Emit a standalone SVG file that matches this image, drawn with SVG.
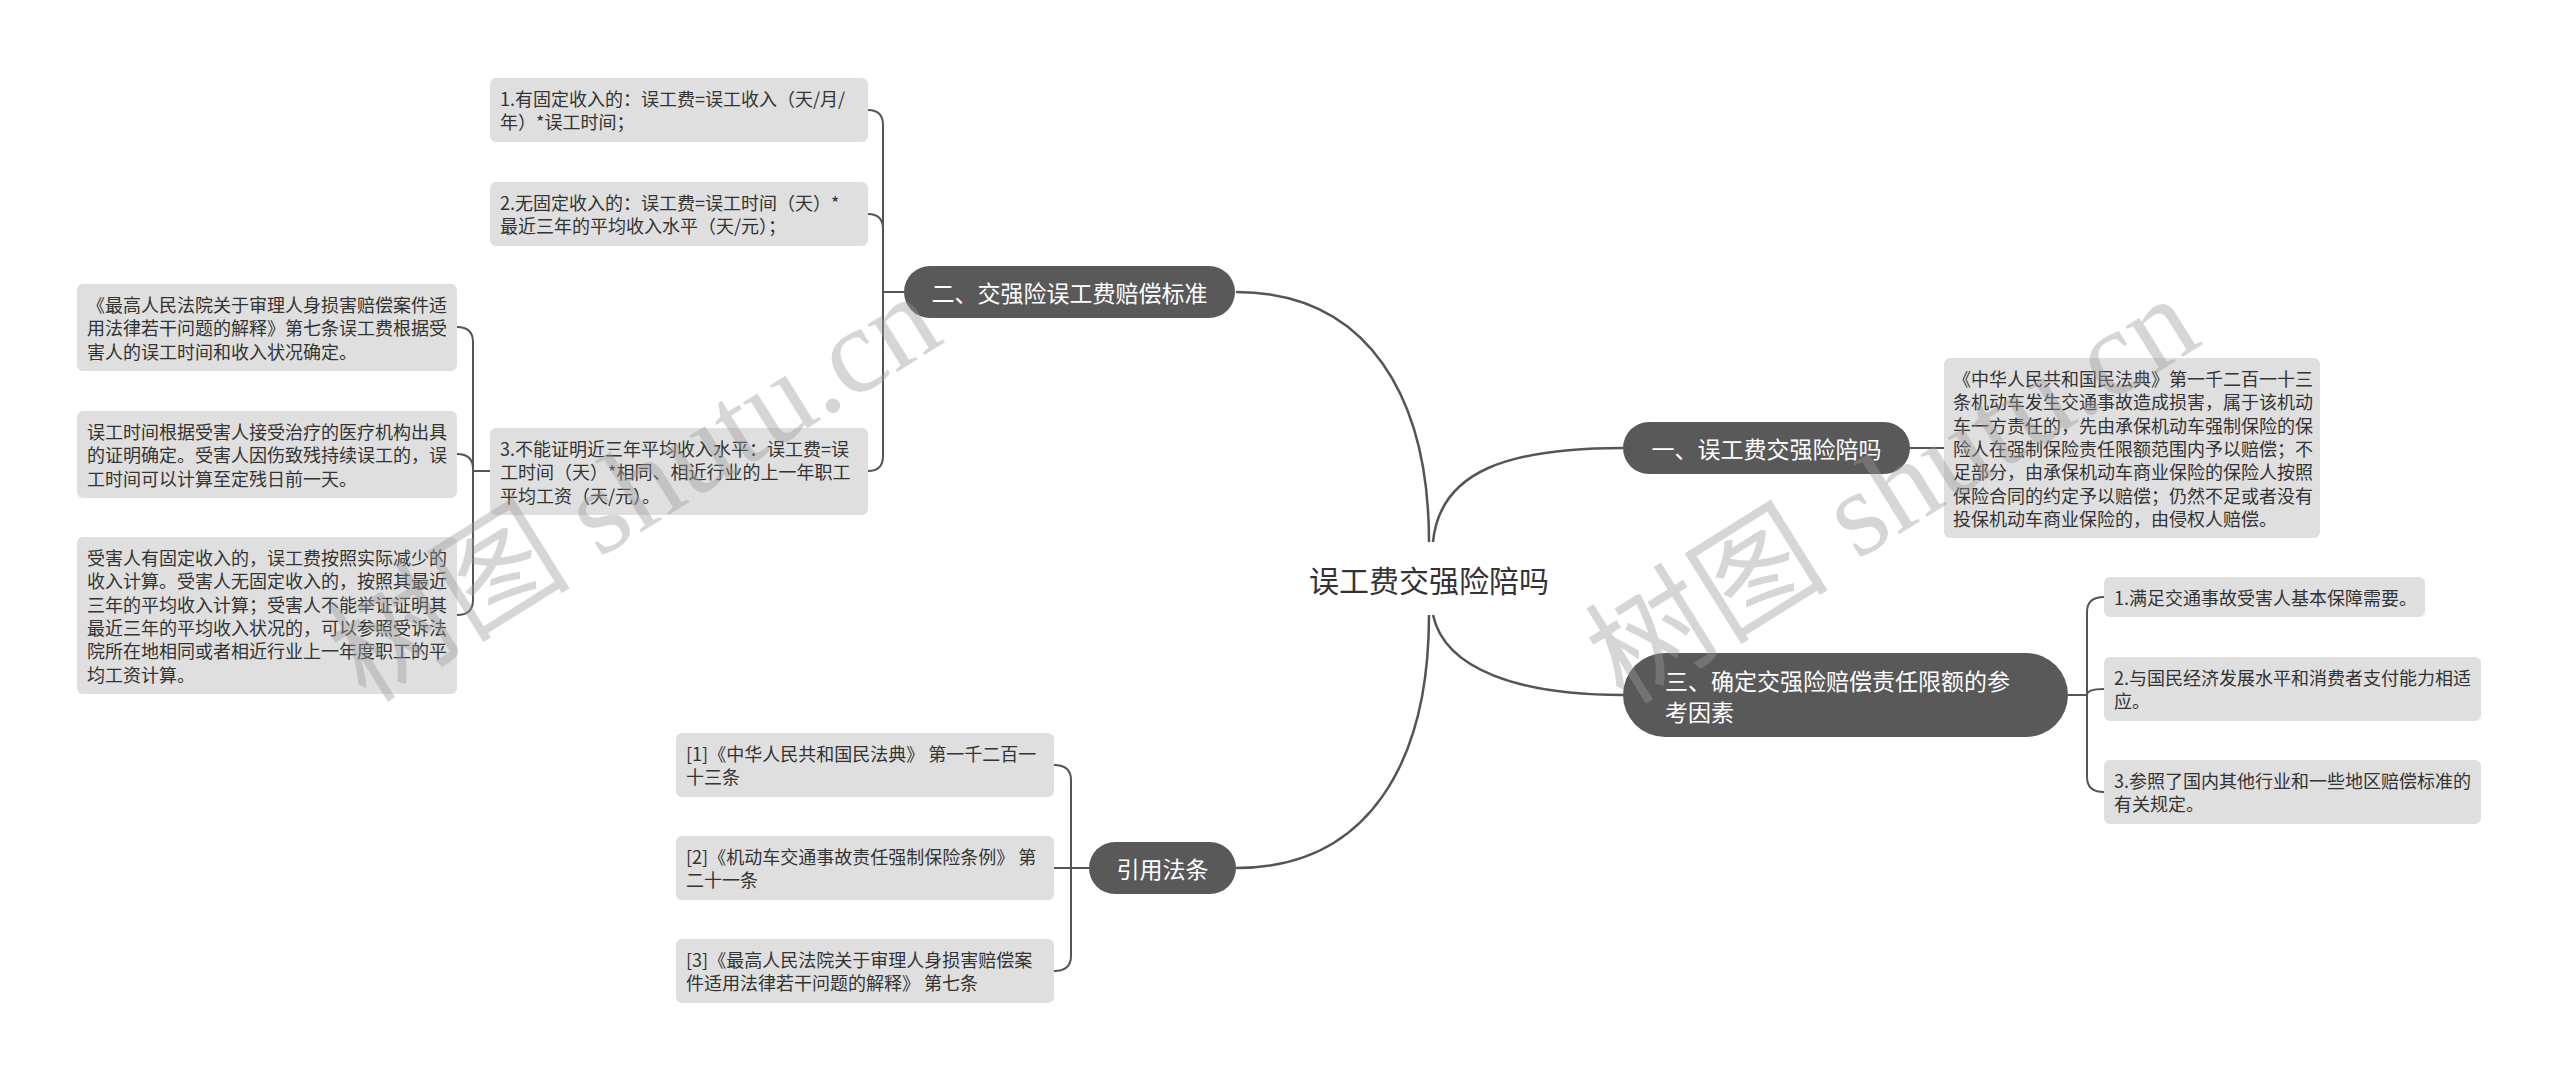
<svg xmlns="http://www.w3.org/2000/svg" width="2560" height="1081" viewBox="0 0 2560 1081">
<style>
.leaf rect{fill:#dfdfdf;}
.leaf text{font-family:"Noto Sans CJK SC","Noto Sans",sans-serif;font-size:18px;fill:#333;dominant-baseline:central;}
.main rect{fill:#595959;}
.main text{font-family:"Noto Sans CJK SC","Noto Sans",sans-serif;font-size:23px;fill:#fff;dominant-baseline:central;}
.conn path{fill:none;stroke:#555;stroke-width:2;}
.conn path.big{stroke-width:2.5;}
.wm{font-family:"Liberation Serif","Noto Sans CJK SC",serif;font-size:122px;fill:#9a9a9a;opacity:0.4;}
</style>
<rect width="2560" height="1081" fill="#fff"/>

<g id="connectors" class="conn">
<path class="big" d="M1236,292 C1370,292 1429,400 1429,542"/>
<path class="big" d="M1433,542 C1440,470 1510,448 1623,448"/>
<path class="big" d="M1429,615 C1429,760 1370,868 1236,868"/>
<path class="big" d="M1433,615 C1445,670 1520,695 1623,695"/>
<path d="M904,292 L883,292"/>
<path d="M883,292 L883,125 Q883,110 868,110"/>
<path d="M883,292 L883,229 Q883,214 868,214"/>
<path d="M883,292 L883,456 Q883,471 868,471"/>
<path d="M490,471 L473,471"/>
<path d="M473,471 L473,342 Q473,327 457,327"/>
<path d="M473,471 L473,469 Q473,454 457,454"/>
<path d="M473,471 L473,600 Q473,615 457,615"/>
<path d="M1910,448 L1944,448"/>
<path d="M2068,695 L2087,695"/>
<path d="M2087,695 L2087,612 Q2087,597 2104,597"/>
<path d="M2087,695 Q2087,689 2104,689"/>
<path d="M2087,695 L2087,777 Q2087,792 2104,792"/>
<path d="M1089,868 L1054,868"/>
<path d="M1071,868 L1071,780 Q1071,765 1054,765"/>
<path d="M1071,868 L1071,956 Q1071,971 1054,971"/>
</g>

<g id="root">
<text x="1429" y="579" text-anchor="middle" style="font-family:'Noto Sans CJK SC','Noto Sans',sans-serif;font-size:30px;fill:#333;dominant-baseline:central;">误工费交强险陪吗</text>
</g>

<g id="n2" class="main">
<rect x="904" y="266" width="331" height="52" rx="26"/>
<text x="1069.5" y="292" text-anchor="middle">二、交强险误工费赔偿标准</text>
</g>
<g id="n1" class="main">
<rect x="1623" y="422" width="287" height="52" rx="26"/>
<text x="1766.5" y="448" text-anchor="middle">一、误工费交强险陪吗</text>
</g>
<g id="n3" class="main">
<rect x="1623" y="653" width="445" height="84" rx="42"/>
<text><tspan x="1665" y="680">三、确定交强险赔偿责任限额的参</tspan><tspan x="1665" y="711">考因素</tspan></text>
</g>
<g id="n4" class="main">
<rect x="1089" y="842" width="147" height="52" rx="26"/>
<text x="1162.5" y="868" text-anchor="middle">引用法条</text>
</g>

<g id="l1" class="leaf">
<rect x="490" y="78" width="378" height="64" rx="6"/>
<text><tspan x="500" y="98">1.有固定收入的：误工费=误工收入（天/月/</tspan><tspan x="500" y="121.3">年）*误工时间；</tspan></text>
</g>
<g id="l2" class="leaf">
<rect x="490" y="182" width="378" height="64" rx="6"/>
<text><tspan x="500" y="202">2.无固定收入的：误工费=误工时间（天）*</tspan><tspan x="500" y="225.3">最近三年的平均收入水平（天/元）；</tspan></text>
</g>
<g id="l3" class="leaf">
<rect x="490" y="428" width="378" height="87" rx="6"/>
<text><tspan x="500" y="448">3.不能证明近三年平均收入水平：误工费=误</tspan><tspan x="500" y="471.3">工时间（天）*相同、相近行业的上一年职工</tspan><tspan x="500" y="494.6">平均工资（天/元）。</tspan></text>
</g>
<g id="ll1" class="leaf">
<rect x="77" y="284" width="380" height="87" rx="6"/>
<text><tspan x="87" y="304">《最高人民法院关于审理人身损害赔偿案件适</tspan><tspan x="87" y="327.3">用法律若干问题的解释》第七条误工费根据受</tspan><tspan x="87" y="350.6">害人的误工时间和收入状况确定。</tspan></text>
</g>
<g id="ll2" class="leaf">
<rect x="77" y="411" width="380" height="87" rx="6"/>
<text><tspan x="87" y="431">误工时间根据受害人接受治疗的医疗机构出具</tspan><tspan x="87" y="454.3">的证明确定。受害人因伤致残持续误工的，误</tspan><tspan x="87" y="477.6">工时间可以计算至定残日前一天。</tspan></text>
</g>
<g id="ll3" class="leaf">
<rect x="77" y="537" width="380" height="157" rx="6"/>
<text><tspan x="87" y="557">受害人有固定收入的，误工费按照实际减少的</tspan><tspan x="87" y="580.3">收入计算。受害人无固定收入的，按照其最近</tspan><tspan x="87" y="603.6">三年的平均收入计算；受害人不能举证证明其</tspan><tspan x="87" y="626.9">最近三年的平均收入状况的，可以参照受诉法</tspan><tspan x="87" y="650.2">院所在地相同或者相近行业上一年度职工的平</tspan><tspan x="87" y="673.5">均工资计算。</tspan></text>
</g>
<g id="r1" class="leaf">
<rect x="1944" y="358" width="376" height="180" rx="6"/>
<text><tspan x="1953" y="378">《中华人民共和国民法典》第一千二百一十三</tspan><tspan x="1953" y="401.3">条机动车发生交通事故造成损害，属于该机动</tspan><tspan x="1953" y="424.6">车一方责任的，先由承保机动车强制保险的保</tspan><tspan x="1953" y="447.9">险人在强制保险责任限额范围内予以赔偿；不</tspan><tspan x="1953" y="471.2">足部分，由承保机动车商业保险的保险人按照</tspan><tspan x="1953" y="494.5">保险合同的约定予以赔偿；仍然不足或者没有</tspan><tspan x="1953" y="517.8">投保机动车商业保险的，由侵权人赔偿。</tspan></text>
</g>
<g id="t1" class="leaf">
<rect x="2104" y="577" width="321" height="40" rx="6"/>
<text><tspan x="2114" y="597">1.满足交通事故受害人基本保障需要。</tspan></text>
</g>
<g id="t2" class="leaf">
<rect x="2104" y="657" width="377" height="64" rx="6"/>
<text><tspan x="2114" y="677">2.与国民经济发展水平和消费者支付能力相适</tspan><tspan x="2114" y="700.3">应。</tspan></text>
</g>
<g id="t3" class="leaf">
<rect x="2104" y="760" width="377" height="64" rx="6"/>
<text><tspan x="2114" y="780">3.参照了国内其他行业和一些地区赔偿标准的</tspan><tspan x="2114" y="803.3">有关规定。</tspan></text>
</g>
<g id="c1" class="leaf">
<rect x="676" y="733" width="378" height="64" rx="6"/>
<text><tspan x="686" y="753">[1]《中华人民共和国民法典》 第一千二百一</tspan><tspan x="686" y="776.3">十三条</tspan></text>
</g>
<g id="c2" class="leaf">
<rect x="676" y="836" width="378" height="64" rx="6"/>
<text><tspan x="686" y="856">[2]《机动车交通事故责任强制保险条例》 第</tspan><tspan x="686" y="879.3">二十一条</tspan></text>
</g>
<g id="c3" class="leaf">
<rect x="676" y="939" width="378" height="64" rx="6"/>
<text><tspan x="686" y="959">[3]《最高人民法院关于审理人身损害赔偿案</tspan><tspan x="686" y="982.3">件适用法律若干问题的解释》 第七条</tspan></text>
</g>

<g id="watermarks">
<text class="wm" x="366" y="704" transform="rotate(-32 366 704)">树图 shutu.cn</text>
<text class="wm" x="1624" y="706" transform="rotate(-32 1624 706)">树图 shutu.cn</text>
</g>
</svg>
